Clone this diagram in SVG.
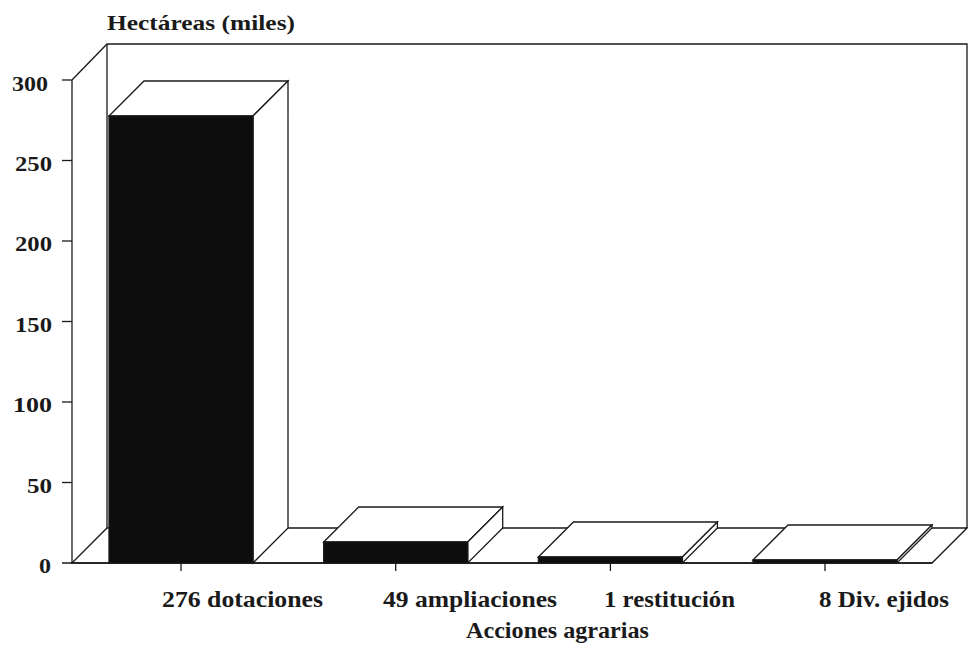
<svg xmlns="http://www.w3.org/2000/svg" width="968" height="649" viewBox="0 0 968 649">
<style>
.ln{fill:none;stroke:#1a1a1a;stroke-width:1.3;stroke-linejoin:miter}
.wf{fill:#fff;stroke:#1a1a1a;stroke-width:1.3;stroke-linejoin:miter}
.bk{fill:#0d0d0d;stroke:#1a1a1a;stroke-width:1.3}
text{font-family:"Liberation Serif","Times New Roman",serif;font-weight:bold;fill:#1a1a1a}
.ax{font-size:22px;text-anchor:end}
.cat{font-size:24px}
</style>
<rect width="968" height="649" fill="#fff"/>
<g id="frame">
  <polyline class="ln" points="72,80 107,44 967,44 967,528"/>
  <line class="ln" x1="107" y1="44" x2="107" y2="528"/>
  <line class="ln" x1="72" y1="80" x2="72" y2="563"/>
  <polygon class="wf" points="72,563 107,528 967,528 932,563"/>
  <line class="ln" x1="62" y1="563" x2="932" y2="563"/>
</g>
<g id="axis-y">
  <g class="ln">
    <line x1="62" y1="80" x2="72" y2="80"/>
    <line x1="62" y1="160.5" x2="72" y2="160.5"/>
    <line x1="62" y1="241" x2="72" y2="241"/>
    <line x1="62" y1="321.5" x2="72" y2="321.5"/>
    <line x1="62" y1="402" x2="72" y2="402"/>
    <line x1="62" y1="482.5" x2="72" y2="482.5"/>
  </g>
  <text class="ax" x="48" y="91" textLength="36" lengthAdjust="spacingAndGlyphs">300</text>
  <text class="ax" x="52" y="171" textLength="37" lengthAdjust="spacingAndGlyphs">250</text>
  <text class="ax" x="52" y="251" textLength="37" lengthAdjust="spacingAndGlyphs">200</text>
  <text class="ax" x="52" y="332" textLength="37" lengthAdjust="spacingAndGlyphs">150</text>
  <text class="ax" x="52" y="412" textLength="39" lengthAdjust="spacingAndGlyphs">100</text>
  <text class="ax" x="52" y="493" textLength="25" lengthAdjust="spacingAndGlyphs">50</text>
  <text class="ax" x="51" y="573" textLength="12" lengthAdjust="spacingAndGlyphs">0</text>
  <text x="107" y="30" font-size="22" textLength="188" lengthAdjust="spacingAndGlyphs">Hectáreas (miles)</text>
</g>
<g id="bar-dotaciones">
  <polygon class="wf" points="109,116 144,81 288,81 253,116"/>
  <polygon class="wf" points="253,116 288,81 288,528 253,563"/>
  <rect class="bk" x="109" y="116" width="144" height="447"/>
</g>
<g id="bar-ampliaciones">
  <polygon class="wf" points="323.7,542 358.7,507 502.7,507 467.7,542"/>
  <polygon class="wf" points="467.7,542 502.7,507 502.7,528 467.7,563"/>
  <rect class="bk" x="323.7" y="542" width="144" height="21"/>
</g>
<g id="bar-restitucion">
  <polygon class="wf" points="538.4,557 573.4,522 717.4,522 682.4,557"/>
  <polygon class="wf" points="682.4,557 717.4,522 717.4,528 682.4,563"/>
  <rect class="bk" x="538.4" y="557" width="144" height="6"/>
</g>
<g id="bar-div-ejidos">
  <polygon class="wf" points="753,560 788,525 932,525 897,560"/>
  <polygon class="wf" points="897,560 932,525 932,528 897,563"/>
  <rect class="bk" x="753" y="560" width="144" height="3"/>
</g>
<g id="axis-x">
  <g class="ln">
    <line x1="181" y1="563" x2="181" y2="571"/>
    <line x1="395.7" y1="563" x2="395.7" y2="571"/>
    <line x1="610.4" y1="563" x2="610.4" y2="571"/>
    <line x1="825" y1="563" x2="825" y2="571"/>
  </g>
  <text class="cat" x="162" y="607" textLength="161" lengthAdjust="spacingAndGlyphs">276 dotaciones</text>
  <text class="cat" x="383" y="607" textLength="174" lengthAdjust="spacingAndGlyphs">49 ampliaciones</text>
  <text class="cat" x="604" y="607" textLength="131" lengthAdjust="spacingAndGlyphs">1 restitución</text>
  <text class="cat" x="819" y="607" textLength="130" lengthAdjust="spacingAndGlyphs">8 Div. ejidos</text>
  <text class="cat" x="466" y="638" textLength="183" lengthAdjust="spacingAndGlyphs">Acciones agrarias</text>
</g>
</svg>
